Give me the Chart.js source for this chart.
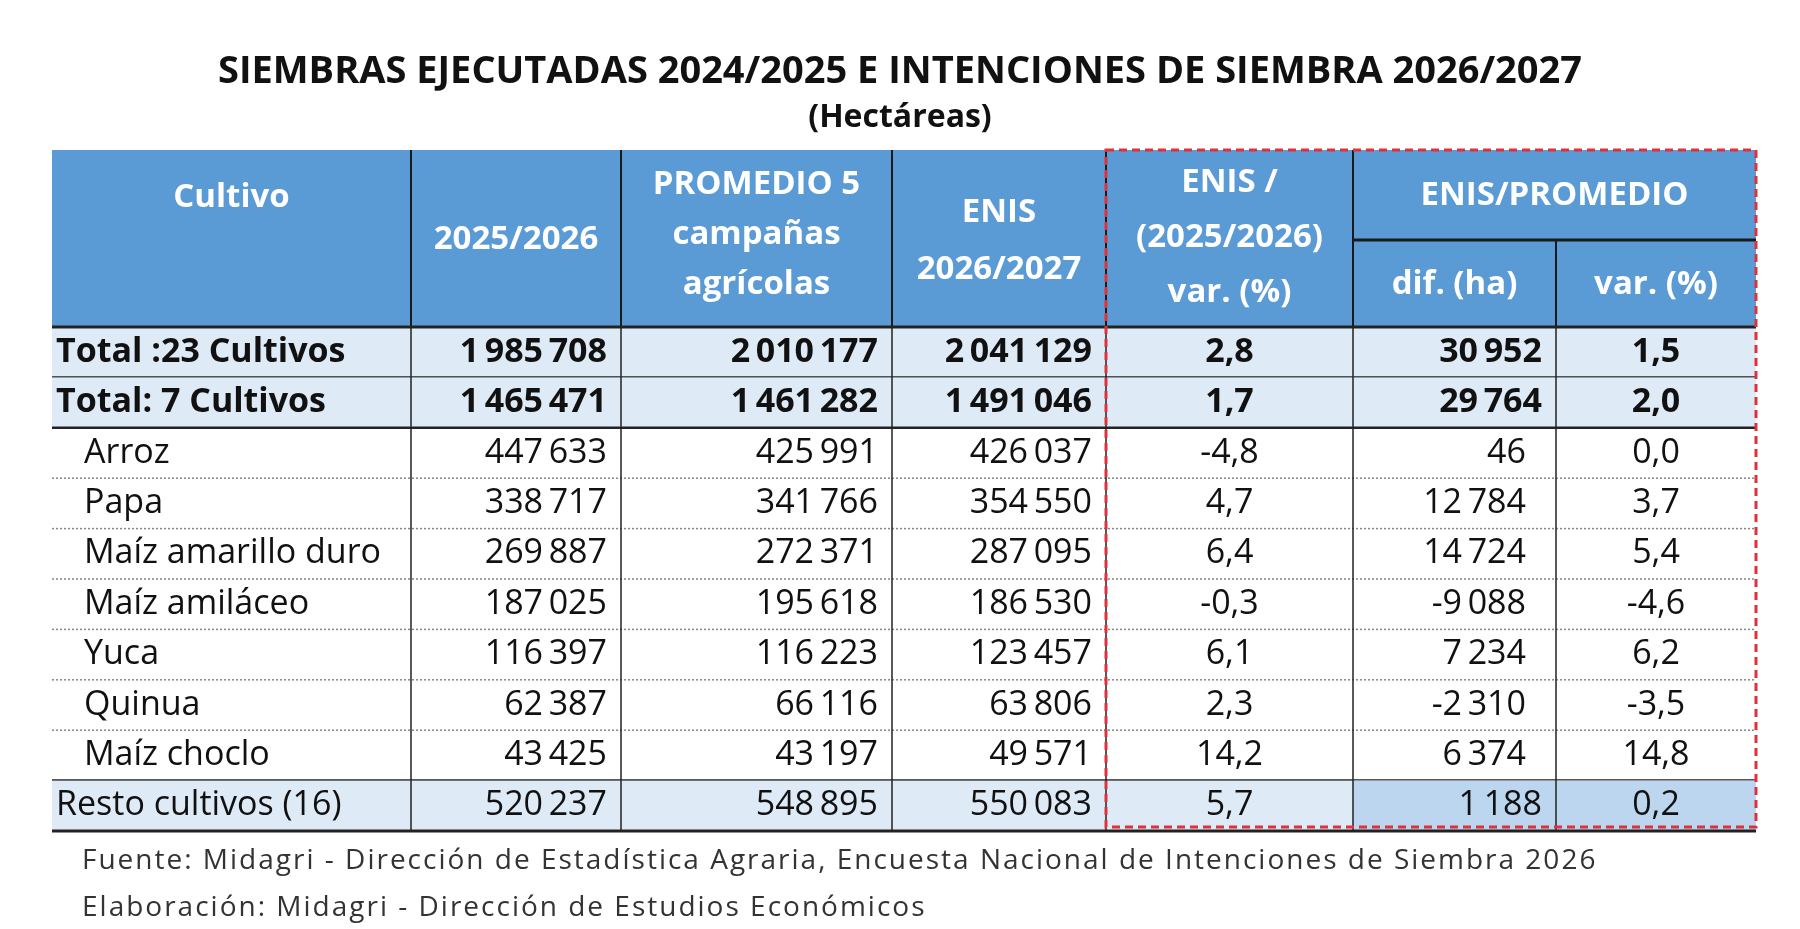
<!DOCTYPE html>
<html><head><meta charset="utf-8">
<script src="https://cdn.jsdelivr.net/npm/chart.js@4"></script>
<style>html,body{margin:0;background:#fff}#c{width:1800px;height:929px}</style>
</head><body><div id="c"><canvas id="cv"></canvas></div>
<script>
const crops = ['Total :23 Cultivos','Total: 7 Cultivos','Arroz','Papa','Maíz amarillo duro','Maíz amiláceo','Yuca','Quinua','Maíz choclo','Resto cultivos (16)'];
const s2025 = [1985708,1465471,447633,338717,269887,187025,116397,62387,43425,520237];
const prom5 = [2010177,1461282,425991,341766,272371,195618,116223,66116,43197,548895];
const enis = [2041129,1491046,426037,354550,287095,186530,123457,63806,49571,550083];
const varEnis = [2.8,1.7,-4.8,4.7,6.4,-0.3,6.1,2.3,14.2,5.7];
const difHa = [30952,29764,46,12784,14724,-9088,7234,-2310,6374,1188];
const varProm = [1.5,2.0,0.0,3.7,5.4,-4.6,6.2,-3.5,14.8,0.2];

const colX = [52, 411, 621, 892, 1106, 1353, 1556, 1756];
const headTop = 150, headBot = 327, rowH = 50.4;
const FONT = '"Open Sans",sans-serif';

const fmtInt = v => (v < 0 ? '-' : '') + Math.abs(v).toString().replace(/\B(?=(\d{3})+(?!\d))/g, '\u2009');
const fmtDec = v => v.toFixed(1).replace('.', ',');

const tablePlugin = {
  id: 'table',
  afterDraw(chart) {
    const ctx = chart.ctx, xs = chart.scales.x, ys = chart.scales.y;
    const X = v => xs.getPixelForValue(v), Y = v => ys.getPixelForValue(v);
    ctx.save();
    // title
    ctx.fillStyle = '#111'; ctx.textAlign = 'center'; ctx.textBaseline = 'middle';
    ctx.font = 'bold 38px ' + FONT;
    ctx.fillText('SIEMBRAS EJECUTADAS 2024/2025 E INTENCIONES DE SIEMBRA 2026/2027', X(900), Y(72));
    ctx.font = 'bold 32px ' + FONT;
    ctx.fillText('(Hectáreas)', X(900), Y(118));
    // header
    ctx.fillStyle = '#5b9bd5';
    ctx.fillRect(X(colX[0]), Y(headTop), X(colX[7]) - X(colX[0]), Y(headBot) - Y(headTop));
    ctx.strokeStyle = '#1a1a1a'; ctx.lineWidth = 2;
    for (let i = 1; i < 7; i++) {
      const top = i === 6 ? 240 : headTop;
      ctx.beginPath(); ctx.moveTo(X(colX[i]), Y(top)); ctx.lineTo(X(colX[i]), Y(headBot)); ctx.stroke();
    }
    ctx.lineWidth = 3;
    ctx.beginPath(); ctx.moveTo(X(colX[5]), Y(240)); ctx.lineTo(X(colX[7]), Y(240)); ctx.stroke();
    ctx.fillStyle = '#fff'; ctx.font = 'bold 33px ' + FONT;
    const hc = (i) => (X(colX[i]) + X(colX[i + 1])) / 2;
    ctx.fillText('Cultivo', hc(0), Y(198));
    ctx.fillText('2025/2026', hc(1), Y(240));
    ['PROMEDIO 5', 'campañas', 'agrícolas'].forEach((t, k) => ctx.fillText(t, hc(2), Y(185 + k * 50)));
    ['ENIS', '2026/2027'].forEach((t, k) => ctx.fillText(t, hc(3), Y(213 + k * 57)));
    ['ENIS /', '(2025/2026)', 'var. (%)'].forEach((t, k) => ctx.fillText(t, hc(4), Y(183 + k * 55)));
    ctx.fillText('ENIS/PROMEDIO', (X(colX[5]) + X(colX[7])) / 2, Y(196));
    ctx.fillText('dif. (ha)', hc(5), Y(285));
    ctx.fillText('var. (%)', hc(6), Y(285));
    // rows
    crops.forEach((name, r) => {
      const y0 = headBot + r * rowH, y1 = y0 + rowH, yc = Y((y0 + y1) / 2);
      const bold = r < 2, resto = r === 9;
      if (bold || resto) {
        ctx.fillStyle = '#deeaf6';
        ctx.fillRect(X(colX[0]), Y(y0), X(colX[7]) - X(colX[0]), Y(y1) - Y(y0));
      }
      if (resto) {
        ctx.fillStyle = '#bcd6ef';
        ctx.fillRect(X(colX[5]), Y(y0), X(colX[7]) - X(colX[5]), Y(y1) - Y(y0));
      }
      ctx.fillStyle = '#111';
      ctx.font = (bold ? 'bold ' : '') + '34px ' + FONT;
      ctx.textAlign = 'left';
      ctx.fillText(name, X(colX[0] + (bold || resto ? 4 : 32)), yc);
      ctx.textAlign = 'right';
      [s2025[r], prom5[r], enis[r]].forEach((v, k) => ctx.fillText(fmtInt(v), X(colX[k + 2] - 14), yc));
      ctx.textAlign = 'center';
      ctx.fillText(fmtDec(varEnis[r]), hc(4), yc);
      ctx.textAlign = 'right';
      ctx.fillText(fmtInt(difHa[r]), X(colX[6] - 14 - (bold || resto ? 0 : 16)), yc);
      ctx.textAlign = 'center';
      ctx.fillText(fmtDec(varProm[r]), hc(6), yc);
      // separators
      const solid = r === 0 || r === 1 || r === 8;
      ctx.strokeStyle = solid ? '#222' : '#888';
      ctx.lineWidth = solid ? 2.5 : 1.5;
      ctx.setLineDash(solid ? [] : [2, 2]);
      ctx.beginPath(); ctx.moveTo(X(colX[0]), Y(y1)); ctx.lineTo(X(colX[7]), Y(y1)); ctx.stroke();
      ctx.setLineDash([]);
    });
    const tBot = headBot + crops.length * rowH;
    ctx.strokeStyle = '#222'; ctx.lineWidth = 1.5;
    for (let i = 1; i < 7; i++) {
      ctx.beginPath(); ctx.moveTo(X(colX[i]), Y(headBot)); ctx.lineTo(X(colX[i]), Y(tBot)); ctx.stroke();
    }
    ctx.lineWidth = 3;
    ctx.beginPath(); ctx.moveTo(X(colX[0]), Y(headBot)); ctx.lineTo(X(colX[7]), Y(headBot)); ctx.stroke();
    ctx.beginPath(); ctx.moveTo(X(colX[0]), Y(tBot)); ctx.lineTo(X(colX[7]), Y(tBot)); ctx.stroke();
    // red dashed box
    ctx.strokeStyle = '#e0303a'; ctx.lineWidth = 3; ctx.setLineDash([8, 5]);
    ctx.strokeRect(X(colX[4]), Y(headTop), X(colX[7]) - X(colX[4]), Y(tBot - 4) - Y(headTop));
    ctx.setLineDash([]);
    // footer
    ctx.fillStyle = '#333'; ctx.textAlign = 'left'; ctx.font = '28px ' + FONT;
    ctx.letterSpacing = '2px';
    ctx.fillText('Fuente: Midagri - Dirección de Estadística Agraria, Encuesta Nacional de Intenciones de Siembra 2026', X(82), Y(861));
    ctx.fillText('Elaboración: Midagri - Dirección de Estudios Económicos', X(82), Y(908));
    ctx.restore();
  }
};

new Chart(document.getElementById('cv'), {
  type: 'scatter',
  data: { datasets: [{ data: [] }] },
  options: {
    responsive: true, maintainAspectRatio: false, animation: false,
    layout: { padding: 0 },
    plugins: { legend: { display: false }, tooltip: { enabled: false } },
    scales: {
      x: { type: 'linear', min: 0, max: 1800, display: false },
      y: { type: 'linear', min: 0, max: 929, reverse: true, display: false }
    }
  },
  plugins: [tablePlugin]
});
</script></body></html>
